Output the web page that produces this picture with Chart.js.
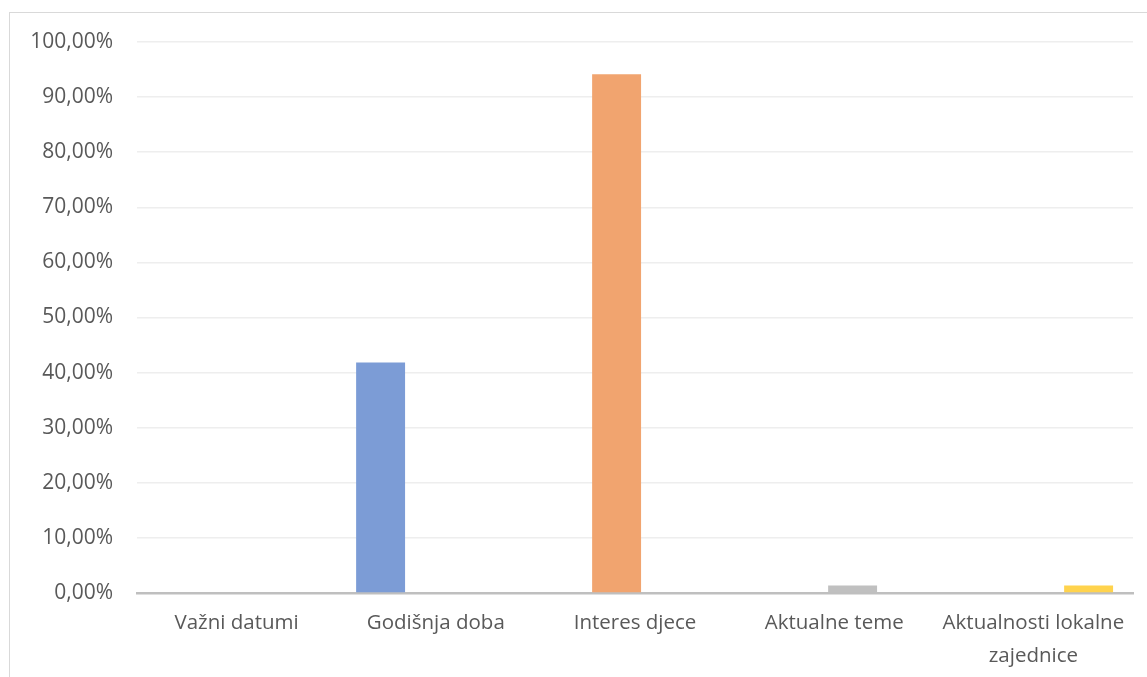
<!DOCTYPE html>
<html>
<head>
<meta charset="utf-8">
<script src="https://cdn.jsdelivr.net/npm/chart.js@4/dist/chart.umd.min.js"></script>
<style>
  html, body { margin: 0; padding: 0; background: #fff; }
  #wrap { position: relative; width: 1147px; height: 677px; }
  #frame { position: absolute; left: 9px; top: 12px; right: 0; bottom: 0;
           border-left: 1px solid #d9d9d9; border-top: 1px solid #d9d9d9; pointer-events: none; }
  canvas { position: absolute; left: 0; top: 0; }
</style>
</head>
<body>
<div id="wrap">
  <canvas id="chart" width="1147" height="677"></canvas>
  <div id="frame"></div>
</div>
<script>
// ─── Data ───
const categories = ['Važni datumi', 'Godišnja doba', 'Interes djece', 'Aktualne teme', ['Aktualnosti lokalne', 'zajednice']];
const seriesBlue = [null, 41.85, null, null, null];
const seriesOrange = [null, null, 94.13, null, null];
const seriesGray = [null, null, null, 1.36, null];
const seriesYellow = [null, null, null, null, 1.36];

const font = "'Open Sans', 'Noto Sans', sans-serif";

const ds = (data, color) => ({
  data,
  backgroundColor: color,
  borderWidth: 0,
  categoryPercentage: 0.739,
  barPercentage: 1.33,
});

new Chart(document.getElementById('chart'), {
  type: 'bar',
  data: {
    labels: categories,
    datasets: [
      ds(seriesBlue, '#7c9cd6'),
      ds(seriesOrange, '#f1a46f'),
      ds(seriesGray, '#c0c0c0'),
      ds(seriesYellow, '#ffd34d'),
    ],
  },
  options: {
    responsive: false,
    animation: false,
    layout: { padding: { top: 42, right: 14, bottom: 0, left: 0 } },
    plugins: { legend: { display: false }, tooltip: { enabled: false } },
    scales: {
      y: {
        min: 0,
        max: 100,
        ticks: {
          stepSize: 10,
          padding: 24,
          color: '#595959',
          font: { family: font, size: 21 },
          callback: v => v.toFixed(2).replace('.', ',') + '%',
        },
        grid: { color: '#eeeeee', lineWidth: 1.5, drawTicks: false },
        border: { display: false },
        afterFit: s => { s.width = 137; },
      },
      x: {
        ticks: {
          color: '#595959',
          font: { family: font, size: 20.5, lineHeight: 1.6 },
          padding: 14,
          maxRotation: 0,
          autoSkip: false,
        },
        grid: { display: false, drawTicks: false },
        border: { color: '#bfbfbf', width: 2.5 },
        afterFit: s => { s.height = 84; },
      },
    },
  },
});
</script>
</body>
</html>
